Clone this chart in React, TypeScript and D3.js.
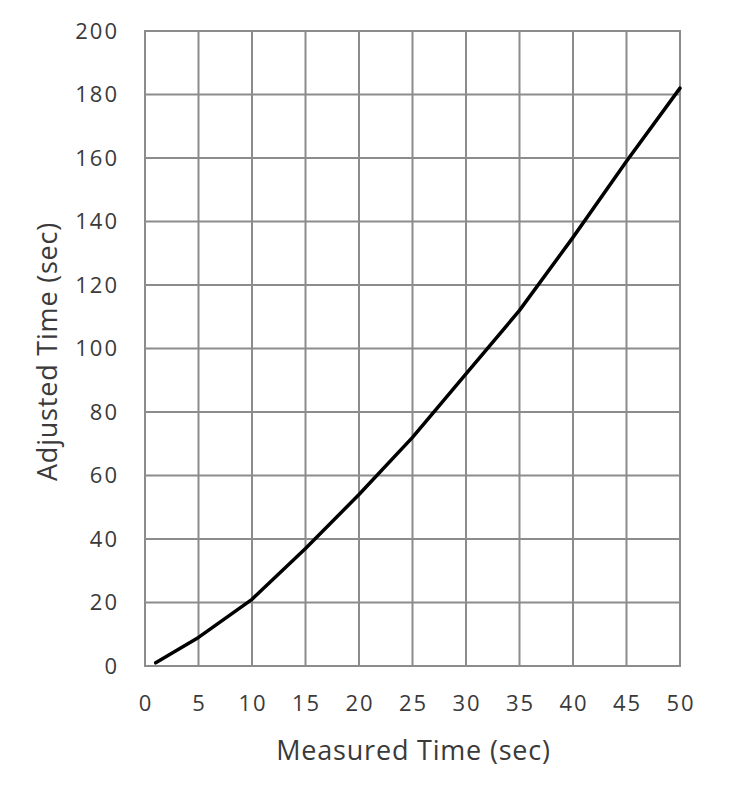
import React, { useEffect, useRef } from 'react';
import * as d3 from 'd3';

const measured = [1, 5, 10, 15, 20, 25, 30, 35, 40, 45, 50];
const adjusted = [1, 9, 21, 37, 54, 72, 92, 112, 135, 159, 182];
const xTicks = [0, 5, 10, 15, 20, 25, 30, 35, 40, 45, 50];
const yTicks = [0, 20, 40, 60, 80, 100, 120, 140, 160, 180, 200];

const App: React.FC = () => {
  const ref = useRef<SVGSVGElement | null>(null);

  useEffect(() => {
    const svg = d3.select(ref.current);
    svg.selectAll('*').remove();

    const left = 145, right = 680, top = 31, bottom = 666;
    const font = '"Open Sans", Lato, sans-serif';

    const x = d3.scaleLinear().domain([0, 50]).range([left, right]);
    const y = d3.scaleLinear().domain([0, 200]).range([bottom, top]);

    const grid = svg.append('g');
    grid.selectAll('line.v')
      .data(xTicks)
      .enter()
      .append('line')
      .attr('class', 'v')
      .attr('x1', d => x(d))
      .attr('x2', d => x(d))
      .attr('y1', top)
      .attr('y2', bottom)
      .attr('stroke', '#8c8c8c')
      .attr('stroke-width', 2);
    grid.selectAll('line.h')
      .data(yTicks)
      .enter()
      .append('line')
      .attr('class', 'h')
      .attr('x1', left - 1)
      .attr('x2', right + 1)
      .attr('y1', d => y(d))
      .attr('y2', d => y(d))
      .attr('stroke', '#8c8c8c')
      .attr('stroke-width', 2);

    svg.selectAll('text.xt')
      .data(xTicks)
      .enter()
      .append('text')
      .attr('class', 'xt')
      .attr('x', d => x(d) + 1)
      .attr('y', 711)
      .attr('text-anchor', 'middle')
      .attr('font-family', font)
      .attr('font-size', '22px')
      .attr('letter-spacing', '2px')
      .attr('fill', '#3a3a3a')
      .text(d => d);

    svg.selectAll('text.yt')
      .data(yTicks)
      .enter()
      .append('text')
      .attr('class', 'yt')
      .attr('x', 119)
      .attr('y', d => y(d))
      .attr('dy', '0.36em')
      .attr('text-anchor', 'end')
      .attr('font-family', font)
      .attr('font-size', '22px')
      .attr('letter-spacing', '2px')
      .attr('fill', '#3a3a3a')
      .text(d => d);

    const pts = measured.map((m, i) => [m, adjusted[i]] as [number, number]);
    const line = d3.line<[number, number]>()
      .x(d => x(d[0]))
      .y(d => y(d[1]));
    svg.append('path')
      .datum(pts)
      .attr('d', line)
      .attr('fill', 'none')
      .attr('stroke', '#000')
      .attr('stroke-width', 3.5)
      .attr('stroke-linejoin', 'round')
      .attr('stroke-linecap', 'round');

    svg.append('text')
      .attr('x', (left + right) / 2 + 1)
      .attr('y', 760)
      .attr('text-anchor', 'middle')
      .attr('font-family', font)
      .attr('font-size', '27px')
      .attr('letter-spacing', '0.8px')
      .attr('fill', '#3a3a3a')
      .text('Measured Time (sec)');

    svg.append('text')
      .attr('transform', `translate(57,${(top + bottom) / 2 + 3}) rotate(-90)`)
      .attr('text-anchor', 'middle')
      .attr('font-family', font)
      .attr('font-size', '27px')
      .attr('letter-spacing', '0.8px')
      .attr('fill', '#3a3a3a')
      .text('Adjusted Time (sec)');
  }, []);

  return (
    <svg
      ref={ref}
      width={735}
      height={800}
      style={{ position: 'absolute', left: 0, top: 0, background: '#fff' }}
    />
  );
};

export default App;
